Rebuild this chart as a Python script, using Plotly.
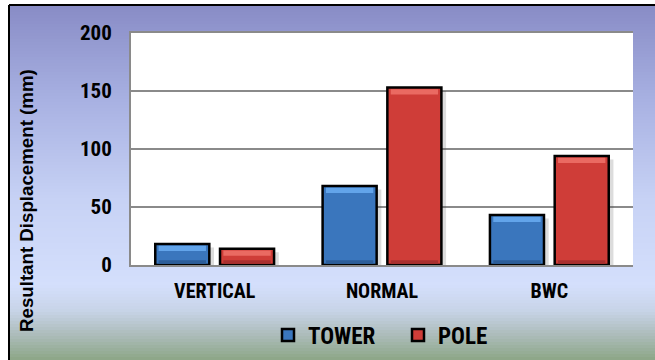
import plotly.graph_objects as go

# ---- data -------------------------------------------------------------
categories = ["VERTICAL", "NORMAL", "BWC"]
tower = [18, 68, 43]
pole = [14, 153, 94]
series_names = ["TOWER", "POLE"]
y_ticks = [0, 50, 100, 150, 200]

# ---- geometry / style -------------------------------------------------
W, H = 655, 360
ML, MR, MT, MB = 131, 22, 33, 95
PW, PH = W - ML - MR, H - MT - MB

BAR_W = 0.323
OFFSETS = [-0.355, 0.032]
MAIN = ["#3a76bd", "#cf3d38"]
LIGHT = ["#62a4ea", "#ea6a62"]
DARK = ["#2c5d99", "#a93030"]

NARROW = "Liberation Sans Narrow, Arial Narrow, Roboto Condensed, sans-serif"
WIDE = "Liberation Sans, Arial, sans-serif"


def px_x(X):
    return (X - ML) / PW


def px_y(Y):
    return (H - MB - Y) / PH


fig = go.Figure()

for vals, name, off, main, light, dark in zip(
    [tower, pole], series_names, OFFSETS, MAIN, LIGHT, DARK
):
    # soft drop shadow to the right of each bar
    fig.add_trace(go.Bar(
        x=categories, y=[v - 3 for v in vals], base=[0] * len(vals),
        offset=off + 0.028, width=BAR_W,
        marker=dict(color="rgba(60,60,60,0.18)", line=dict(width=0)),
        showlegend=False, hoverinfo="skip",
    ))
    # bar body with black outline
    fig.add_trace(go.Bar(
        x=categories, y=vals, name=name,
        offset=off, width=BAR_W,
        marker=dict(color=main, line=dict(color="#000000", width=2.5)),
        hoverinfo="skip",
    ))
    # light bevel along the top edge
    fig.add_trace(go.Bar(
        x=categories, y=[4.5] * len(vals), base=[v - 6 for v in vals],
        offset=off + 0.02, width=BAR_W - 0.04,
        marker=dict(color=light, line=dict(width=0)),
        showlegend=False, hoverinfo="skip",
    ))
    # darker bevel along the bottom edge
    fig.add_trace(go.Bar(
        x=categories, y=[3.2] * len(vals), base=[1.0] * len(vals),
        offset=off + 0.02, width=BAR_W - 0.04,
        marker=dict(color=dark, line=dict(width=0)),
        showlegend=False, hoverinfo="skip",
    ))

# ---- vertical background gradient -------------------------------------
stops = [
    (6, (137, 140, 198)),
    (100, (168, 177, 226)),
    (200, (199, 210, 245)),
    (285, (212, 223, 252)),
    (310, (200, 212, 232)),
    (335, (172, 188, 186)),
    (360, (140, 166, 134)),
]


def grad_color(Y):
    for (y0, c0), (y1, c1) in zip(stops[:-1], stops[1:]):
        if y0 <= Y <= y1:
            t = (Y - y0) / (y1 - y0)
            return "rgb(%d,%d,%d)" % tuple(round(a + (b - a) * t) for a, b in zip(c0, c1))
    return "rgb(%d,%d,%d)" % stops[-1][1]


shapes = []
step = 3
Y = 6
while Y < H:
    Y2 = min(Y + step, H)
    shapes.append(dict(
        type="rect", xref="paper", yref="paper", layer="below",
        x0=px_x(10), x1=px_x(W + 5), y0=px_y(Y2 + 0.5), y1=px_y(Y),
        fillcolor=grad_color((Y + Y2) / 2), line=dict(width=0),
    ))
    Y = Y2

# white plotting area
shapes.append(dict(
    type="rect", xref="paper", yref="paper", layer="below",
    x0=0, x1=1, y0=0, y1=1, fillcolor="white", line=dict(width=0),
))
# black frame on the top and left of the chart box
shapes.append(dict(type="line", xref="paper", yref="paper",
                   x0=px_x(9), x1=px_x(W + 5), y0=px_y(5), y1=px_y(5),
                   line=dict(color="black", width=2)))
shapes.append(dict(type="line", xref="paper", yref="paper",
                   x0=px_x(9), x1=px_x(9), y0=px_y(5), y1=px_y(H + 5),
                   line=dict(color="black", width=2)))

fig.update_layout(
    width=W, height=H,
    margin=dict(l=ML, r=MR, t=MT, b=MB, pad=0, autoexpand=False),
    paper_bgcolor="white", plot_bgcolor="white",
    barmode="overlay",
    shapes=shapes,
    font=dict(family=NARROW, color="black"),
    legend=dict(
        orientation="h", x=px_x(268), xanchor="left", y=px_y(335), yanchor="middle",
        font=dict(family=NARROW, size=23, color="black", weight="bold"),
        bgcolor="rgba(0,0,0,0)", itemwidth=30, entrywidth=85,
        traceorder="normal",
    ),
    annotations=[dict(
        text="Resultant Displacement (mm)", textangle=-90,
        xref="paper", yref="paper", x=px_x(26), y=px_y(201),
        xanchor="center", yanchor="middle", showarrow=False,
        font=dict(family=WIDE, size=18.7, color="black", weight="bold"),
    )],
    xaxis=dict(
        showline=True, mirror=True, linecolor="#8a8a8a", linewidth=2,
        showgrid=False, ticks="", ticklabelstandoff=7,
        tickfont=dict(family=NARROW, size=20, color="black", weight="bold"),
        range=[-0.5, 2.5],
    ),
    yaxis=dict(
        range=[0, 200], tickvals=y_ticks, ticktext=[str(v) for v in y_ticks],
        showline=True, linecolor="#8a8a8a", linewidth=2,
        showgrid=True, gridcolor="#8a8a8a", gridwidth=1.5,
        zeroline=False, ticks="", ticklabelstandoff=13,
        tickfont=dict(family=NARROW, size=21, color="black", weight="bold"),
    ),
)

fig.write_html("out.html")
